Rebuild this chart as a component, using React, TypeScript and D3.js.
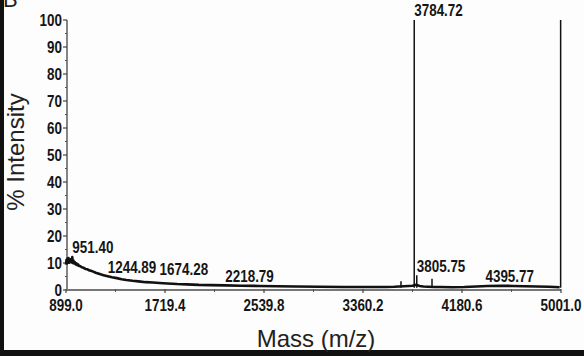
import React from 'react';
import * as d3 from 'd3';

// baseline trace of the spectrum (mass, % intensity)
const traceMass = [
  899, 903, 907, 912, 916, 920, 925, 930, 936, 941, 946, 951, 956, 961, 966, 972, 979, 985, 992,
  999, 1005, 1018, 1030, 1045, 1060, 1075, 1090, 1105, 1125, 1145, 1165, 1185, 1210, 1245, 1280,
  1320, 1360, 1400, 1450, 1500, 1560, 1620, 1674, 1740, 1820, 1900, 2000, 2100, 2218, 2350,
  2500, 2650, 2800, 3000, 3200, 3400, 3550, 3620, 3660, 3700, 3740, 3770, 3800, 3830, 3860,
  3900, 3950, 4000, 4100, 4200, 4300, 4395, 4500, 4600, 4700, 4800, 4900, 4990,
];
const traceInt = [
  9.4, 11.2, 9.8, 11.6, 10.3, 11.8, 10.1, 11.3, 10.4, 11.5, 10.2, 12.2, 10.0, 10.9, 9.8, 10.3, 9.5,
  9.9, 9.2, 9.5, 9.0, 8.8, 8.4, 8.2, 7.8, 7.7, 7.3, 7.1, 6.8, 6.4, 6.1, 5.8, 5.5, 5.1, 4.7,
  4.4, 4.0, 3.7, 3.4, 3.2, 2.9, 2.8, 2.6, 2.4, 2.2, 2.1, 1.9, 1.8, 1.7, 1.6,
  1.5, 1.4, 1.3, 1.2, 1.1, 1.1, 1.1, 1.2, 1.3, 1.4, 1.5, 1.6, 1.9, 1.5, 1.3,
  1.2, 1.1, 1.1, 1.0, 1.1, 1.3, 1.5, 1.6, 1.5, 1.4, 1.3, 1.2, 1.0,
];

// sharp peaks drawn as sticks
const peakMass = [3675, 3784.72, 3805.75, 3932, 4998];
const peakInt = [3.2, 100, 5.5, 4.2, 100];

// annotations (mass, intensity where the label sits)
const labelText = ['951.40', '1244.89', '1674.28', '2218.79', '3784.72', '3805.75', '4395.77'];
const labelMass = [951.4, 1244.89, 1674.28, 2218.79, 3784.72, 3805.75, 4375];
const labelInt = [11.5, 4.1, 3.3, 0.7, 99.3, 4.4, 0.7];

const xTicks = [899.0, 1719.4, 2539.8, 3360.2, 4180.6, 5001.0];
const yTicks = [0, 10, 20, 30, 40, 50, 60, 70, 80, 90, 100];

const W = 584;
const H = 356;
const FONT = '"Liberation Sans", Arial, sans-serif';

const Narrow: React.FC<{ x: number; y: number; anchor?: string; children: React.ReactNode }> = ({
  x,
  y,
  anchor = 'start',
  children,
}) => (
  <g transform={`translate(${x},${y}) scale(0.84,1)`}>
    <text
      x={0}
      y={0}
      textAnchor={anchor}
      fontFamily={FONT}
      fontSize={16}
      fontWeight={700}
      fill="#151515"
    >
      {children}
    </text>
  </g>
);

export default function App() {
  const x = d3.scaleLinear().domain([899, 5001]).range([66, 561]);
  const y = d3.scaleLinear().domain([0, 100]).range([290, 20]);

  const line = d3
    .line<number>()
    .x((_, i) => x(traceMass[i]))
    .y((d) => y(d));

  const xMinor = d3.range(xTicks.length - 1).map((i) => (xTicks[i] + xTicks[i + 1]) / 2);
  const yMinor = d3.range(5, 100, 10);

  return (
    <svg width={W} height={H} style={{ position: 'absolute', left: 0, top: 0 }}>
      <rect x={0} y={0} width={W} height={H} fill="#fdfdfd" />
      {/* scan border */}
      <rect x={0} y={0} width={4} height={H} fill="#111" />
      <rect x={0} y={350} width={W} height={6} fill="#111" />
      <text x={3} y={7} fontFamily={FONT} fontSize={22} fill="#222">
        B
      </text>

      {/* y axis */}
      <line x1={67} x2={67} y1={y(100)} y2={y(0)} stroke="#444" strokeWidth={1.3} />
      {yTicks.map((t) => (
        <g key={t}>
          <line x1={63} x2={67} y1={y(t)} y2={y(t)} stroke="#444" strokeWidth={1.2} />
          <Narrow x={62} y={y(t) + 6} anchor="end">
            {t}
          </Narrow>
        </g>
      ))}
      {yMinor.map((t) => (
        <line key={t} x1={65} x2={67} y1={y(t)} y2={y(t)} stroke="#555" strokeWidth={1} />
      ))}

      {/* x axis */}
      <line x1={x(899)} x2={x(5001)} y1={290} y2={290} stroke="#777" strokeWidth={2} />
      {xTicks.map((t) => (
        <g key={t}>
          <line x1={x(t)} x2={x(t)} y1={289} y2={293} stroke="#444" strokeWidth={1.2} />
          <Narrow x={x(t)} y={311} anchor="middle">
            {t.toFixed(1)}
          </Narrow>
        </g>
      ))}
      {xMinor.map((t) => (
        <line key={t} x1={x(t)} x2={x(t)} y1={289} y2={292} stroke="#555" strokeWidth={1} />
      ))}

      {/* spectrum */}
      <path
        d={line(traceInt) ?? ''}
        fill="none"
        stroke="#111"
        strokeWidth={2.6}
        strokeLinejoin="round"
      />
      {peakMass.map((m, i) => (
        <line
          key={m}
          x1={x(m)}
          x2={x(m)}
          y1={y(0.8)}
          y2={y(peakInt[i])}
          stroke="#111"
          strokeWidth={1.5}
        />
      ))}

      {/* peak labels */}
      {labelText.map((t, i) => (
        <Narrow key={t} x={x(labelMass[i])} y={y(labelInt[i]) - 6}>
          {t}
        </Narrow>
      ))}

      {/* axis titles */}
      <text
        transform="translate(24,152) rotate(-90)"
        textAnchor="middle"
        fontFamily={FONT}
        fontSize={24}
        fill="#222"
      >
        % Intensity
      </text>
      <text x={316} y={347} textAnchor="middle" fontFamily={FONT} fontSize={24} fill="#222">
        Mass (m/z)
      </text>
    </svg>
  );
}
